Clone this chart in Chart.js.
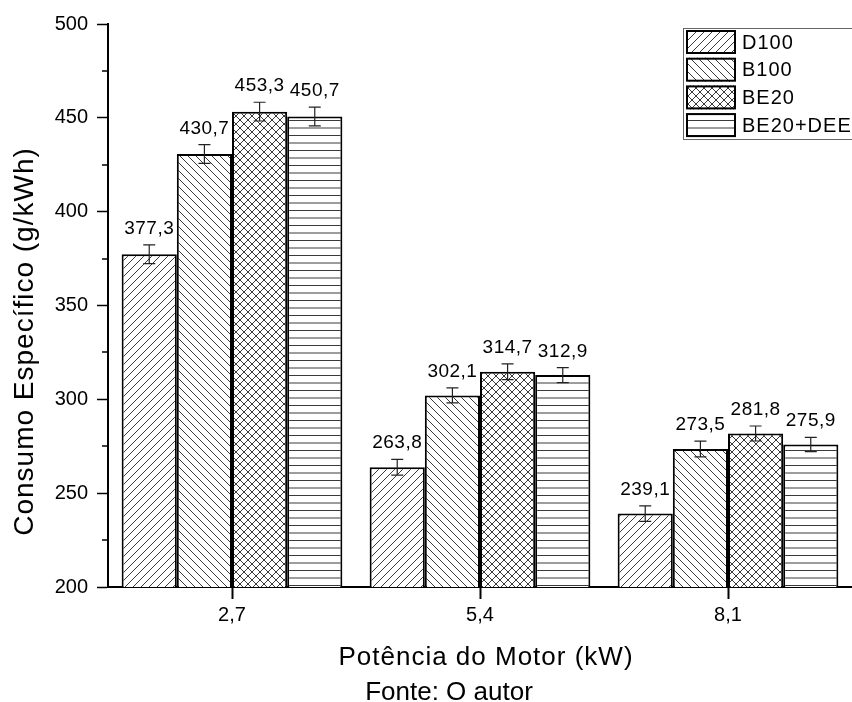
<!DOCTYPE html>
<html lang="pt">
<head>
<meta charset="utf-8">
<title>Consumo Específico</title>
<script src="https://cdn.jsdelivr.net/npm/chart.js@4.4.1/dist/chart.umd.min.js"></script>
<style>
  html, body { margin: 0; padding: 0; background: #fff; overflow: hidden; }
  canvas { display: block; }
</style>
</head>
<body>
<canvas id="chart" width="852" height="702"></canvas>
<script>
const potencias = ["2,7", "5,4", "8,1"];
const combustiveis = ["D100", "B100", "BE20", "BE20+DEE"];

const d100 = [377.3, 263.8, 239.1];
const b100 = [430.7, 302.1, 273.5];
const be20 = [453.3, 314.7, 281.8];
const be20dee = [450.7, 312.9, 275.9];

// desvio (barras de erro)
const errD100 = [5, 4.2, 4.1];
const errB100 = [5, 4, 4.2];
const errBE20 = [5, 4.2, 4];
const errBE20dee = [5, 4, 3.8];

const yMin = 200;
const yMax = 500;
const yStep = 50;

const FONTE = "'Liberation Sans', Arial, sans-serif";
Chart.defaults.font.family = FONTE;
Chart.defaults.color = "#000";

function hachura(tipo) {
  const c = document.createElement("canvas");
  const s = 8;
  c.width = s;
  c.height = tipo === "horiz" ? 15 : s;
  const g = c.getContext("2d");
  g.fillStyle = "#fff";
  g.fillRect(0, 0, c.width, c.height);
  g.strokeStyle = "#3a3a3a";
  g.lineWidth = 1;
  g.beginPath();
  if (tipo === "horiz") {
    g.moveTo(0, 0.5); g.lineTo(s, 0.5);
    g.moveTo(0, 8); g.lineTo(s, 8);
  } else {
    for (const k of [-s, 0, s]) {
      if (tipo === "/" || tipo === "x") { g.moveTo(k, s); g.lineTo(k + s, 0); }
      if (tipo === "\\" || tipo === "x") { g.moveTo(k, 0); g.lineTo(k + s, s); }
    }
  }
  g.stroke();
  return g.createPattern(c, "repeat");
}

function rotulo(v) {
  return v.toFixed(1).replace(".", ",");
}

const barrasErro = {
  id: "barrasErro",
  afterDatasetsDraw(chart) {
    const { ctx } = chart;
    const y = chart.scales.y;
    ctx.save();
    chart.data.datasets.forEach((ds, i) => {
      chart.getDatasetMeta(i).data.forEach((bar, j) => {
        const v = ds.data[j];
        const e = ds.erro[j];
        const topo = y.getPixelForValue(v + e);
        const base = y.getPixelForValue(v - e);
        ctx.strokeStyle = "#222";
        ctx.lineWidth = 1.2;
        ctx.beginPath();
        ctx.moveTo(bar.x, topo); ctx.lineTo(bar.x, base);
        ctx.moveTo(bar.x - 6, topo); ctx.lineTo(bar.x + 6, topo);
        ctx.moveTo(bar.x - 6, base); ctx.lineTo(bar.x + 6, base);
        ctx.stroke();
        ctx.fillStyle = "#000";
        ctx.font = "19px " + FONTE;
        ctx.letterSpacing = "0.5px";
        ctx.textAlign = "center";
        ctx.textBaseline = "alphabetic";
        ctx.fillText(rotulo(v), bar.x, topo - 11);
      });
    });
    ctx.restore();
  }
};

const ticksMenores = {
  id: "ticksMenores",
  afterDraw(chart) {
    const { ctx, chartArea } = chart;
    const y = chart.scales.y;
    ctx.save();
    ctx.strokeStyle = "#000";
    ctx.lineWidth = 1.5;
    ctx.beginPath();
    for (let v = yMin + yStep / 2; v < yMax; v += yStep) {
      const py = Math.round(y.getPixelForValue(v));
      ctx.moveTo(chartArea.left - 6, py);
      ctx.lineTo(chartArea.left, py);
    }
    ctx.stroke();
    ctx.restore();
  }
};

const legenda = {
  id: "legenda",
  afterDraw(chart) {
    const { ctx, chartArea } = chart;
    const x0 = chartArea.right - 169;
    const y0 = chartArea.top + 4;
    ctx.save();
    ctx.fillStyle = "#fff";
    ctx.fillRect(x0, y0, 200, 112);
    ctx.strokeStyle = "#666";
    ctx.lineWidth = 1;
    ctx.strokeRect(x0 + 0.5, y0 + 0.5, 200, 111);
    chart.data.datasets.forEach((ds, i) => {
      const ry = y0 + 2 + i * 27.7;
      ctx.fillStyle = ds.backgroundColor;
      ctx.fillRect(x0 + 3, ry, 50, 24);
      ctx.strokeStyle = "#000";
      ctx.lineWidth = 2;
      ctx.strokeRect(x0 + 4, ry + 1, 48, 22);
      ctx.fillStyle = "#000";
      ctx.font = "20px " + FONTE;
      ctx.letterSpacing = "1px";
      ctx.textAlign = "left";
      ctx.textBaseline = "middle";
      ctx.fillText(ds.label, x0 + 59, ry + 13);
    });
    ctx.restore();
  }
};

const titulos = {
  id: "titulos",
  afterDraw(chart) {
    const { ctx, chartArea } = chart;
    ctx.save();
    ctx.fillStyle = "#000";
    ctx.textAlign = "center";
    ctx.textBaseline = "alphabetic";

    ctx.font = "28px " + FONTE;
    ctx.letterSpacing = "1px";
    ctx.save();
    ctx.translate(chartArea.left - 75, (chartArea.top + chartArea.bottom) / 2 + 36);
    ctx.rotate(-Math.PI / 2);
    ctx.fillText("Consumo Específico (g/kWh)", 0, 0);
    ctx.restore();

    ctx.font = "26px " + FONTE;
    ctx.fillText("Potência do Motor (kW)", (chartArea.left + chartArea.right) / 2 + 6, chartArea.bottom + 78);

    ctx.letterSpacing = "0px";
    ctx.fillText("Fonte: O autor", chart.width / 2 + 23, chart.height - 2);
    ctx.restore();
  }
};

const padroes = [hachura("/"), hachura("\\"), hachura("x"), hachura("horiz")];
const valores = [d100, b100, be20, be20dee];
const erros = [errD100, errB100, errBE20, errBE20dee];

new Chart(document.getElementById("chart"), {
  type: "bar",
  data: {
    labels: potencias,
    datasets: combustiveis.map((nome, i) => ({
      label: nome,
      data: valores[i],
      erro: erros[i],
      backgroundColor: padroes[i],
      borderColor: "#000",
      borderWidth: 2,
      categoryPercentage: 0.89,
      barPercentage: 1
    }))
  },
  options: {
    responsive: false,
    animation: false,
    layout: { padding: { top: 24, right: 0, bottom: 0, left: 0 } },
    plugins: {
      legend: { display: false },
      tooltip: { enabled: false }
    },
    scales: {
      x: {
        grid: { offset: false, drawOnChartArea: false, tickLength: 12, tickColor: "#000", tickWidth: 2 },
        border: { color: "#000", width: 2 },
        ticks: { color: "#000", font: { size: 20 }, padding: 4 },
        afterFit(s) { s.height = 115; }
      },
      y: {
        min: yMin,
        max: yMax,
        grid: { drawOnChartArea: false, tickLength: 11, tickColor: "#000", tickWidth: 1.5 },
        border: { color: "#000", width: 2 },
        ticks: { stepSize: yStep, color: "#000", font: { size: 20 }, padding: 9 },
        afterFit(s) { s.width = 108; }
      }
    }
  },
  plugins: [barrasErro, ticksMenores, legenda, titulos]
});
</script>
</body>
</html>
